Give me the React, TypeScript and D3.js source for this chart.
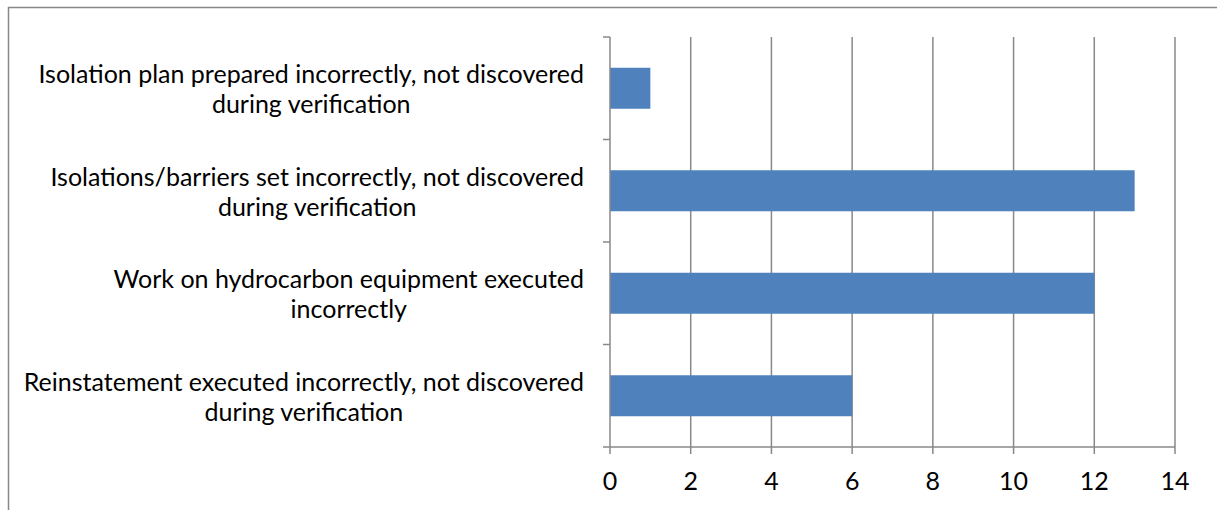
import * as d3 from "d3";
import { useLayoutEffect, useRef } from "react";

const categories = [
  "Isolation plan prepared incorrectly, not discovered during verification",
  "Isolations/barriers set incorrectly, not discovered during verification",
  "Work on hydrocarbon equipment executed incorrectly",
  "Reinstatement executed incorrectly, not discovered during verification",
];
const labelLines = [
  ["Isolation plan prepared incorrectly, not discovered", "during verification"],
  ["Isolations/barriers set incorrectly, not discovered", "during verification"],
  ["Work on hydrocarbon equipment executed", "incorrectly"],
  ["Reinstatement executed incorrectly, not discovered", "during verification"],
];
const values = [1, 13, 12, 6];
const xTicks = [0, 2, 4, 6, 8, 10, 12, 14];

const W = 1217;
const H = 510;
const grey = "#888888";
const font = "Lato, 'Open Sans', sans-serif";
const fs = 25;

export default function App() {
  const left = 610;
  const right = 1175;
  const top = 37;
  const bottom = 447;
  const labelRight = 584;

  const x = d3.scaleLinear().domain([0, 14]).range([left, right]);
  const y = d3
    .scaleBand()
    .domain(categories)
    .range([top, bottom])
    .paddingInner(0.6)
    .paddingOuter(0.3);
  const step = y.step();
  const bounds = d3.range(categories.length + 1).map((i) => top + i * step);

  const labelsRef = useRef<SVGGElement>(null);

  // right-align each wrapped label block, lines centred on each other
  useLayoutEffect(() => {
    const g = labelsRef.current;
    if (!g) return;
    g.querySelectorAll("text").forEach((t) => {
      const bb = (t as SVGTextElement).getBBox();
      const shift = labelRight - (bb.x + bb.width);
      t.setAttribute("transform", `translate(${shift},0)`);
    });
  }, []);

  return (
    <svg
      width={W}
      height={H}
      style={{ position: "absolute", left: 0, top: 0, background: "#fff" }}
    >
      <rect x={8.5} y={7.5} width={W + 10} height={H + 10} fill="#fff" stroke={grey} strokeWidth={1.5} />

      {xTicks.slice(1).map((t) => (
        <line key={`g-${t}`} x1={x(t)} x2={x(t)} y1={top} y2={bottom + 7} stroke={grey} strokeWidth={1.5} />
      ))}

      {categories.map((c, i) => (
        <rect key={`b-${c}`} x={x(0)} y={y(c)} width={x(values[i]) - x(0)} height={y.bandwidth()} fill="#4f81bd" />
      ))}

      <line x1={left} x2={left} y1={top} y2={bottom + 7} stroke={grey} strokeWidth={1.5} />
      <line x1={left} x2={right} y1={bottom} y2={bottom} stroke={grey} strokeWidth={1.5} />
      {bounds.map((b, i) => (
        <line key={`t-${i}`} x1={left - 7} x2={left} y1={b} y2={b} stroke={grey} strokeWidth={1.5} />
      ))}

      {xTicks.map((t) => (
        <text key={`xl-${t}`} x={x(t)} y={490} textAnchor="middle" fontFamily={font} fontSize={fs} fill="#000">
          {t}
        </text>
      ))}

      <g ref={labelsRef}>
        {categories.map((c, i) => {
          const cy = (y(c) ?? 0) + y.bandwidth() / 2;
          const lines = labelLines[i];
          return (
            <text key={`yl-${c}`} fontFamily={font} fontSize={fs} fill="#000" textAnchor="middle">
              {lines.map((l, j) => (
                <tspan key={j} x={300} y={cy + 10 + (j - (lines.length - 1) / 2) * 30}>
                  {l}
                </tspan>
              ))}
            </text>
          );
        })}
      </g>
    </svg>
  );
}
